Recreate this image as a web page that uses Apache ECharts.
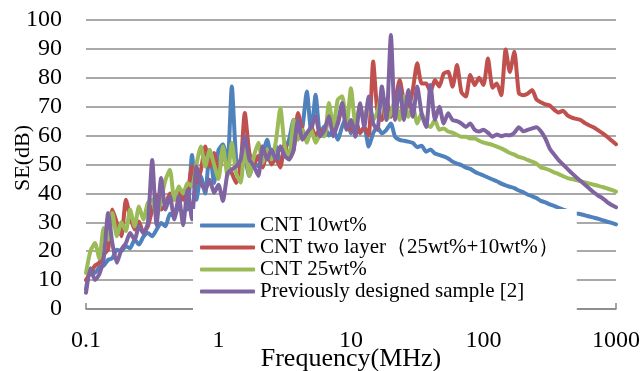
<!DOCTYPE html>
<html>
<head>
<meta charset="utf-8">
<script src="https://cdn.jsdelivr.net/npm/echarts@6/dist/echarts.min.js"></script>
<style>html,body{margin:0;padding:0;background:#fff}#c{width:643px;height:371px}</style>
</head>
<body>
<div id="c"></div>
<script>
const freqMHz = [0.1,0.108,0.117,0.126,0.136,0.147,0.158,0.171,0.185,0.2,0.215,0.233,0.251,0.271,0.293,0.316,0.341,0.369,0.398,0.43,0.464,0.501,0.541,0.584,0.631,0.681,0.736,0.794,0.858,0.926,
1,1.08,1.17,1.26,1.36,1.47,1.58,1.71,1.85,2,2.15,2.33,2.51,2.71,2.93,3.16,3.41,3.69,3.98,4.3,4.64,5.01,5.41,5.84,6.31,6.81,7.36,7.94,8.58,9.26,
10,10.8,11.7,12.6,13.6,14.7,15.8,17.1,18.5,20,21.5,23.3,25.1,27.1,29.3,31.6,34.1,36.9,39.8,43,46.4,50.1,54.1,58.4,63.1,68.1,73.6,79.4,85.8,92.6,
100,108,117,126,136,147,158,171,185,200,215,233,251,271,293,316,341,369,398,430,464,501,541,584,631,681,736,794,858,926,1000];

const cnt10 = [6.8,14,12.5,14.5,15,17,17.6,20.5,20,21.7,21,24,22.3,25,26.3,25.2,27.5,29.8,28.6,33,32,36,40,34.4,53.3,37.8,45.9,40,55,43.6,
55,57,50.6,77,52,48.3,51.7,46,50.6,49.4,53,58.6,52.9,56.3,50.6,55,58.6,65.5,59.8,63,75.3,60.9,74.1,60.9,63.2,60,62,58.6,63.2,66.5,
60.8,65.4,60.8,63,56.2,60.8,63,60.8,62,64.2,59.6,58.5,58.2,57.9,57.5,56,56.5,54.4,55.2,53.8,53.3,52.8,52.1,51,50.3,49.8,48.9,48.5,47.5,46.8,
46.2,45.5,44.8,44.2,43.4,42.8,42.3,41.8,41,40.4,39.6,39,38.4,37.4,36.9,36.2,35.7,35,34.4,33.8,33.5,33.1,32.8,32.4,32,31.6,31.2,30.7,30.2,29.8,29.3];

const cntTwoLayer = [10,12.5,15,16,19,20.6,34.4,29.8,25.2,37.8,32,27.5,30.3,26.3,28.6,34.4,39.5,34.4,36,40,37.8,41.8,37.8,40,49.3,43.6,48,56.2,49.3,54,
47,53,50,47,43.6,50,67.8,54,50,53,49,54,50,52,49,57.4,52,55,67.8,62,58,63,60,62,60,67.8,62,64,70,63,
62,65,61,63,60,85.6,68.8,65.4,72.3,66.5,71.7,79.2,72,70,76,85,78,78,75.2,79.2,77,81.5,82.1,76.9,84.4,75,73.5,81,77.5,80,
77.5,86.7,76.6,78,74,89.8,82,89,74.6,74,74.5,75.8,72.5,71.5,70.8,70.4,69,68,68.6,67,66.2,65.8,65.4,64.3,63.5,62.8,61.8,60.8,59.6,58.3,57];

const cnt25 = [12.5,20,22.8,17.5,28,24,33.2,25.2,30,27,34.4,28.6,35.5,31,36.7,37.8,32,38,44.7,48.2,37.8,42.4,40,43.6,42.4,50,56.2,49.3,55,50,
45,56.3,46,57.5,47,43.7,56.3,46,52.9,57.5,50.6,55.2,51.7,58,69.5,56.3,51.7,65.5,58.6,62,57.5,62,57.5,60,59.8,71.3,63.2,72.4,73.6,63.2,
76.4,64.2,70,65.4,72.3,65.4,68,74.6,65.4,67.7,72.3,65.4,73.5,66.5,70,64.2,67.7,64,63,65.4,62,62.5,61.4,61,60.2,59.6,59.6,59,59,58.2,
57.6,57.2,56.8,56.2,55.6,54.8,54,53.4,52.6,52.2,51.6,51,50.3,49,48.6,48,47.3,46.7,46,45.3,45,44.6,44.2,43.8,43.4,43,42.6,42.2,41.7,41.2,40.6];

const prevSample = [5.6,14,10,12,17.5,33.2,22.8,16,20.6,22.8,26.3,24,28.6,26.3,29.8,51.6,29,45.3,34.4,39,31,39,29,41.3,31,49.3,43.6,41.3,44.7,40.2,
43,37.4,47,48.3,49.4,51.7,59.8,51.7,49.4,46,56.3,51.7,55.2,51.7,56.3,53,51.7,55.2,65.5,58.6,60.9,63,66.7,59.8,62,66.7,59.8,64.4,71.3,62,
65.4,59.6,71.2,63,73.5,64.2,62,77,65.4,94.8,65.4,77,65.4,75.8,66.5,77,67.7,63,77.5,65.4,70,64.2,67.7,65.4,65,64.2,63,64.2,62,61.4,
62,61,59.6,60.4,59.8,60.2,60.1,61,62.9,61.5,62,62.5,62.9,61.5,59,55.5,53.5,51.5,50,48.5,47,45.6,44.3,43,41.6,40.3,39.2,38.3,37,36,35.2];

const seriesNames = ['CNT 10wt%','CNT two layer（25wt%+10wt%）','CNT 25wt%','Previously designed sample [2]'];
const seriesValues = [cnt10, cntTwoLayer, cnt25, prevSample];
const colors = ['#4F81BD','#C0504D','#9BBB59','#8064A2'];
const yTicks = [0,10,20,30,40,50,60,70,80,90,100];
const xTicks = [0.1,1,10,100,1000];

const font = "'Liberation Serif','Times New Roman',serif";
const chart = echarts.init(document.getElementById('c'), null, {renderer:'canvas'});
chart.setOption({
  animation:false,
  backgroundColor:'#fff',
  grid:{left:86,right:27,top:20,bottom:62,containLabel:false,outerBoundsMode:'none'},
  legend:{
    orient:'vertical', left:193, top:209,
    backgroundColor:'#fff', padding:[6,18,8,7],
    itemWidth:55, itemHeight:4, itemGap:1, icon:'roundRect',
    textStyle:{fontFamily:font,fontSize:21,lineHeight:21,color:'#000'},
    data:seriesNames
  },
  xAxis:{
    type:'log', logBase:10, min:0.1, max:1000,
    name:'Frequency(MHz)', nameLocation:'middle', nameGap:37, nameMoveOverlap:false,
    nameTextStyle:{fontFamily:font,fontSize:26,color:'#000'},
    axisLine:{show:true,lineStyle:{color:'#868686',width:1.5}},
    axisTick:{show:true,inside:true,length:6,lineStyle:{color:'#868686',width:1.5}},
    minorTick:{show:false},
    splitLine:{show:false},
    axisLabel:{fontFamily:font,fontSize:24,color:'#000',margin:20,
      formatter:function(v){ for(const t of xTicks){ if(Math.abs(v-t)/t<1e-6) return String(t);} return ''; }}
  },
  yAxis:{
    type:'value', min:0, max:100, interval:10,
    name:'SE(dB)', nameLocation:'middle', nameGap:52, nameMoveOverlap:false,
    nameTextStyle:{fontFamily:font,fontSize:22,color:'#000',padding:[0,0,0,13]},
    axisLine:{show:false}, axisTick:{show:false},
    splitLine:{show:true,lineStyle:{color:'#8c8c8c',width:1.5}},
    axisLabel:{fontFamily:font,fontSize:24,color:'#000',margin:24,
      formatter:function(v){ return yTicks.indexOf(v)>=0 ? String(v) : ''; }}
  },
  series: seriesValues.map(function(vals,i){
    return {
      name:seriesNames[i], type:'line', symbol:'none', smooth:0.2,
      lineStyle:{color:colors[i],width:4,cap:'round',join:'round'},
      itemStyle:{color:colors[i]},
      data: freqMHz.map(function(f,j){ return [f, vals[j]]; })
    };
  })
});
</script>
</body>
</html>
